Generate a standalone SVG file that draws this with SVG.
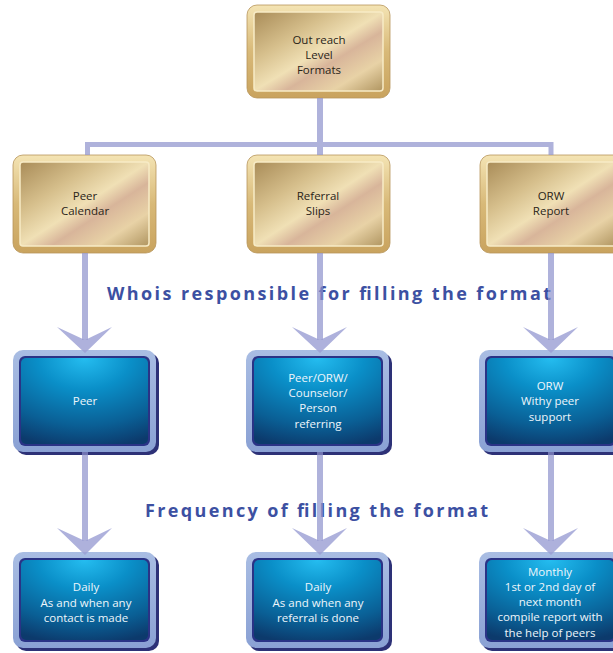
<svg xmlns="http://www.w3.org/2000/svg" width="613" height="653" viewBox="0 0 613 653">
<style>
  .gframe{fill:url(#gFrame);stroke:#b8955a;stroke-width:0.8}
  .gpanel{fill:url(#gPanel);stroke:#f7ebc6;stroke-width:1.5}
  .gt{font-family:"Open Sans","Noto Sans",sans-serif;font-size:11.5px;fill:#2a2418;text-anchor:middle}
  .bshadow{fill:#2d3177}
  .bframe{fill:url(#bFrame)}
  .bring{fill:#2a3386}
  .bpanel{fill:url(#bPanel)}
  .bt{font-family:"Open Sans","Noto Sans",sans-serif;font-size:11.5px;fill:#eef6fb;text-anchor:middle}
  .title{font-family:"Open Sans","Noto Sans",sans-serif;font-size:18px;font-weight:bold;fill:#3c50a2}
  .ln{stroke:#8d91cc;stroke-opacity:0.7;stroke-width:6;fill:none}
  .hl{stroke:#8d91cc;stroke-opacity:0.7;stroke-width:5;fill:none}
  .chev{fill:#9a9ed3;fill-opacity:0.8}
</style>
<defs>
  <linearGradient id="gFrame" x1="0" y1="0" x2="0" y2="1">
    <stop offset="0" stop-color="#f4e4b4"/>
    <stop offset="0.5" stop-color="#d8b978"/>
    <stop offset="1" stop-color="#c9a35e"/>
  </linearGradient>
  <linearGradient id="gPanel" x1="0" y1="0" x2="1" y2="1">
    <stop offset="0" stop-color="#a98c58"/>
    <stop offset="0.3" stop-color="#d6bf8c"/>
    <stop offset="0.5" stop-color="#f0e0b5"/>
    <stop offset="0.62" stop-color="#d8b59a"/>
    <stop offset="0.8" stop-color="#e8d2a6"/>
    <stop offset="1" stop-color="#b09560"/>
  </linearGradient>
  <linearGradient id="bFrame" x1="0" y1="0" x2="0" y2="1">
    <stop offset="0" stop-color="#a9bde3"/>
    <stop offset="1" stop-color="#8aa1d4"/>
  </linearGradient>
  <radialGradient id="bPanel" cx="0.5" cy="0" r="1.05" fx="0.5" fy="0">
    <stop offset="0" stop-color="#25bdf0"/>
    <stop offset="0.35" stop-color="#0a8fc8"/>
    <stop offset="0.75" stop-color="#0a5f95"/>
    <stop offset="1" stop-color="#0c3a6c"/>
  </radialGradient>
</defs>

<g id="title-responsible"><text class="title" x="107" y="300" textLength="444" lengthAdjust="spacing">Whois responsible for filling the format</text></g>
<g id="title-frequency"><text class="title" x="145" y="517" textLength="343" lengthAdjust="spacing">Frequency of filling the format</text></g>

<g id="n-top">
  <rect class="gframe" x="247" y="5" width="143" height="93" rx="10"/>
  <rect class="gpanel" x="254" y="12" width="129" height="79" rx="3"/>
  <text class="gt" x="319" y="44">Out reach</text>
  <text class="gt" x="319" y="59">Level</text>
  <text class="gt" x="319" y="74">Formats</text>
</g>

<g id="n-peer-calendar">
  <rect class="gframe" x="13" y="155" width="143" height="98" rx="10"/>
  <rect class="gpanel" x="20" y="162" width="129" height="84" rx="3"/>
  <text class="gt" x="85" y="200">Peer</text>
  <text class="gt" x="85" y="215">Calendar</text>
</g>
<g id="n-referral-slips">
  <rect class="gframe" x="247" y="155" width="143" height="98" rx="10"/>
  <rect class="gpanel" x="254" y="162" width="129" height="84" rx="3"/>
  <text class="gt" x="318" y="200">Referral</text>
  <text class="gt" x="318" y="215">Slips</text>
</g>
<g id="n-orw-report">
  <rect class="gframe" x="480" y="155" width="143" height="98" rx="10"/>
  <rect class="gpanel" x="487" y="162" width="129" height="84" rx="3"/>
  <text class="gt" x="551" y="200">ORW</text>
  <text class="gt" x="551" y="215">Report</text>
</g>

<g id="n-peer">
  <rect class="bshadow" x="16" y="353" width="143" height="102" rx="10"/>
  <rect class="bframe" x="13" y="350" width="143" height="102" rx="10"/>
  <rect class="bring" x="19" y="356" width="131" height="90" rx="6"/>
  <rect class="bpanel" x="21" y="358" width="127" height="86" rx="5"/>
  <text class="bt" x="85" y="405">Peer</text>
</g>
<g id="n-peer-orw">
  <rect class="bshadow" x="249" y="353" width="143" height="102" rx="10"/>
  <rect class="bframe" x="246" y="350" width="143" height="102" rx="10"/>
  <rect class="bring" x="252" y="356" width="131" height="90" rx="6"/>
  <rect class="bpanel" x="254" y="358" width="127" height="86" rx="5"/>
  <text class="bt" x="318" y="382">Peer/ORW/</text>
  <text class="bt" x="318" y="397">Counselor/</text>
  <text class="bt" x="318" y="412">Person</text>
  <text class="bt" x="318" y="428">referring</text>
</g>
<g id="n-orw">
  <rect class="bshadow" x="482" y="353" width="143" height="102" rx="10"/>
  <rect class="bframe" x="479" y="350" width="143" height="102" rx="10"/>
  <rect class="bring" x="485" y="356" width="131" height="90" rx="6"/>
  <rect class="bpanel" x="487" y="358" width="127" height="86" rx="5"/>
  <text class="bt" x="550" y="390">ORW</text>
  <text class="bt" x="550" y="405">Withy peer</text>
  <text class="bt" x="550" y="421">support</text>
</g>

<g id="n-daily-contact">
  <rect class="bshadow" x="16" y="555" width="143" height="96" rx="10"/>
  <rect class="bframe" x="13" y="552" width="143" height="96" rx="10"/>
  <rect class="bring" x="19" y="558" width="131" height="84" rx="6"/>
  <rect class="bpanel" x="21" y="560" width="127" height="80" rx="5"/>
  <text class="bt" x="86" y="591">Daily</text>
  <text class="bt" x="86" y="607">As and when any</text>
  <text class="bt" x="86" y="622">contact is made</text>
</g>
<g id="n-daily-referral">
  <rect class="bshadow" x="249" y="555" width="143" height="96" rx="10"/>
  <rect class="bframe" x="246" y="552" width="143" height="96" rx="10"/>
  <rect class="bring" x="252" y="558" width="131" height="84" rx="6"/>
  <rect class="bpanel" x="254" y="560" width="127" height="80" rx="5"/>
  <text class="bt" x="318" y="591">Daily</text>
  <text class="bt" x="318" y="607">As and when any</text>
  <text class="bt" x="318" y="622">referral is done</text>
</g>
<g id="n-monthly">
  <rect class="bshadow" x="482" y="555" width="143" height="96" rx="10"/>
  <rect class="bframe" x="479" y="552" width="143" height="96" rx="10"/>
  <rect class="bring" x="485" y="558" width="131" height="84" rx="6"/>
  <rect class="bpanel" x="487" y="560" width="127" height="80" rx="5"/>
  <text class="bt" x="550" y="576">Monthly</text>
  <text class="bt" x="550" y="591">1st or 2nd day of</text>
  <text class="bt" x="550" y="606">next month</text>
  <text class="bt" x="550" y="621">compile report with</text>
  <text class="bt" x="550" y="637">the help of peers</text>
</g>

<g id="connectors">
  <line class="ln" x1="320" y1="98" x2="320" y2="142"/>
  <path class="hl" d="M87.5,155 V144.5 H551 V155"/>
  <line class="ln" x1="320" y1="147" x2="320" y2="155"/>
  <line class="ln" x1="85" y1="253" x2="85" y2="340"/>
  <line class="ln" x1="320" y1="253" x2="320" y2="340"/>
  <line class="ln" x1="551" y1="253" x2="551" y2="340"/>
  <polygon class="chev" points="57,327 85,340 112,327 85,353"/>
  <polygon class="chev" points="292,327 320,340 347,327 320,353"/>
  <polygon class="chev" points="523,327 551,340 578,327 551,353"/>
  <line class="ln" x1="85" y1="452" x2="85" y2="541"/>
  <line class="ln" x1="320" y1="452" x2="320" y2="541"/>
  <line class="ln" x1="551" y1="452" x2="551" y2="541"/>
  <polygon class="chev" points="57,528 85,541 112,528 85,555"/>
  <polygon class="chev" points="292,528 320,541 347,528 320,555"/>
  <polygon class="chev" points="523,528 551,541 578,528 551,555"/>
</g>
</svg>
